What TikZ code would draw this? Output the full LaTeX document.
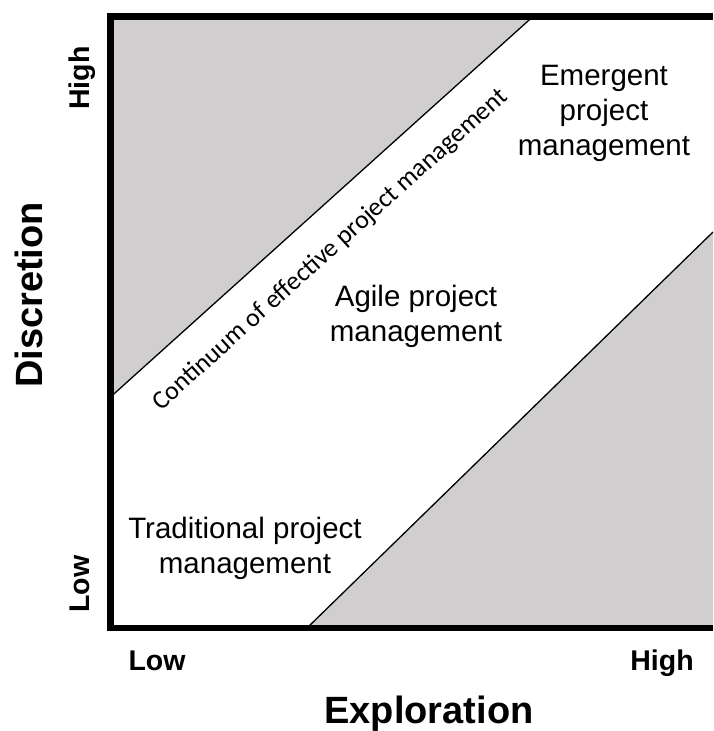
\documentclass[tikz,border=0pt]{standalone}
\usepackage{fontspec}
\setmainfont{Liberation Sans}
\newfontfamily\calibrifont{Carlito}
\definecolor{regiongray}{RGB}{208,206,207}
\begin{document}
\begin{tikzpicture}[x=1pt,y=-1pt,
  region/.style={font=\fontsize{29.5}{35}\selectfont, align=center, inner sep=0},
  ticklabel/.style={font=\bfseries\fontsize{28.5}{32}\selectfont, inner sep=0, anchor=base},
  axistitle/.style={font=\bfseries\fontsize{38}{42}\selectfont, inner sep=0, anchor=base},
  frameline/.style={line width=6.5pt, line join=miter},
  divider/.style={line width=1.3pt}]
\useasboundingbox (0,0) rectangle (713,731);
% corners of the plot
\coordinate (TL) at (110.5,16.5);
\coordinate (TR) at (713,16.5);
\coordinate (BL) at (110.5,628);
\coordinate (BR) at (713,628);
% ends of the two diagonals
\coordinate (U1) at (110.5,397);
\coordinate (U2) at (533,16.5);
\coordinate (L1) at (307,628);
\coordinate (L2) at (713,232);
% shaded areas
\fill[regiongray] (TL) -- (U2) -- (U1) -- cycle;
\fill[regiongray] (L1) -- (L2) -- (BR) -- cycle;
\draw[divider] (U1) -- (U2);
\draw[divider] (L1) -- (L2);
% frame
\draw[frameline] (TR) -- (TL) -- (BL) -- (BR);
% region labels
\node[region] (emergent) at (604,113) {Emergent\\project\\management};
\node[region] (agile) at (416,316) {Agile project\\management};
\node[region] (traditional) at (245,548) {Traditional project\\management};
\node[rotate=42, anchor=base, inner sep=0, font=\calibrifont\fontsize{26}{30}\selectfont] (continuum) at (335,255) {Continuum of effective project management};
% axis labels
\node[ticklabel, rotate=90] (yhigh) at (89,78) {High};
\node[ticklabel, rotate=90] (ylow) at (89,584) {Low};
\node[axistitle, rotate=90] (ytitle) at (42,295) {Discretion};
\node[ticklabel] (xlow) at (157,670) {Low};
\node[ticklabel] (xhigh) at (662,670) {High};
\node[axistitle] (xtitle) at (429,723) {Exploration};
\end{tikzpicture}
\end{document}
